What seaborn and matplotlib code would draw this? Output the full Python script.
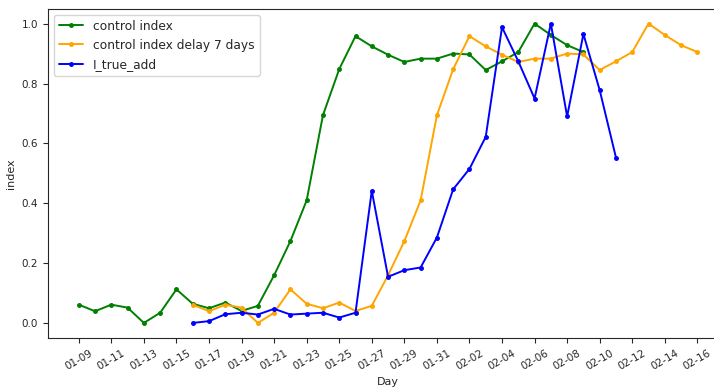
import pandas as pd
import seaborn as sns
import matplotlib.pyplot as plt
import matplotlib.dates as mdates

# values
control_dates = pd.date_range('2020-01-09', '2020-02-09', freq='D')
control_index = [0.062, 0.040, 0.062, 0.052, 0.001, 0.035, 0.113, 0.065, 0.050, 0.069,
                 0.041, 0.058, 0.160, 0.274, 0.410, 0.694, 0.848, 0.958, 0.924, 0.896,
                 0.872, 0.883, 0.883, 0.900, 0.897, 0.845, 0.874, 0.905, 1.000, 0.962,
                 0.928, 0.905]

delay_dates = pd.date_range('2020-01-16', '2020-02-16', freq='D')
delay_index = [0.062, 0.040, 0.062, 0.052, 0.001, 0.035, 0.113, 0.065, 0.050, 0.069,
               0.041, 0.058, 0.160, 0.274, 0.410, 0.694, 0.848, 0.958, 0.924, 0.896,
               0.872, 0.883, 0.883, 0.900, 0.897, 0.845, 0.874, 0.905, 1.000, 0.962,
               0.928, 0.905]

true_add_dates = pd.date_range('2020-01-16', '2020-02-11', freq='D')
true_add = [0.001, 0.007, 0.030, 0.035, 0.029, 0.048, 0.029, 0.032, 0.035, 0.019,
            0.035, 0.442, 0.155, 0.177, 0.186, 0.286, 0.447, 0.515, 0.622, 0.988,
            0.874, 0.750, 1.000, 0.690, 0.965, 0.778, 0.553]

tick_dates = pd.date_range('2020-01-09', '2020-02-16', freq='2D')

series = [
    (control_dates, control_index, 'control index', 'green'),
    (delay_dates, delay_index, 'control index delay 7 days', 'orange'),
    (true_add_dates, true_add, 'I_true_add', 'blue'),
]

sns.set_style('ticks')
plt.rcParams['font.family'] = ['DejaVu Sans']

fig, ax = plt.subplots(figsize=(7.14, 3.92), dpi=100)
fig.subplots_adjust(left=0.067, right=1.02, bottom=0.138, top=0.978)

for dates, values, name, color in series:
    df = pd.DataFrame({'Day': dates, 'index': values})
    sns.lineplot(data=df, x='Day', y='index', ax=ax, color=color, label=name,
                 marker='.', markersize=5.5, markeredgecolor=color, linewidth=1.4)

ax.set_xticks(tick_dates)
ax.xaxis.set_major_formatter(mdates.DateFormatter('%m-%d'))
ax.tick_params(axis='x', labelrotation=30, labelsize=7.5)
ax.tick_params(axis='y', labelsize=7.5)
ax.set_xlabel('Day', fontsize=8)
ax.set_ylabel('index', fontsize=8)
ax.legend(loc='upper left', fontsize=8.8)

fig.savefig('out.png')
